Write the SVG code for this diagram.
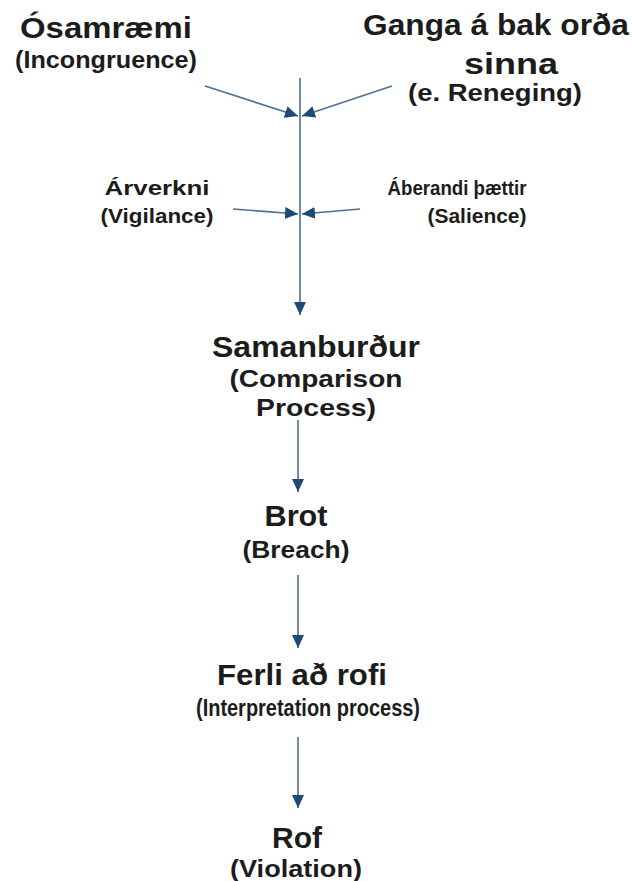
<svg xmlns="http://www.w3.org/2000/svg" width="632" height="881" viewBox="0 0 632 881">
<style>
text{font-family:"Liberation Sans",Arial,sans-serif;font-weight:bold;fill:#1c1c1c;text-anchor:middle}
.t1{font-size:29px}
.t2{font-size:24px}
.t3{font-size:20px}
.c{stroke:#4d6f93;stroke-width:1.6;fill:none}
</style>
<defs>
<marker id="ah" markerUnits="userSpaceOnUse" markerWidth="14" markerHeight="14" viewBox="0 0 14 14" refX="13" refY="7" orient="auto">
<path d="M0,1 L13,7 L0,13 Z" fill="#1f4a78"/>
</marker>
</defs>
<rect width="632" height="881" fill="#ffffff"/>
<g id="connectors">
<line class="c" x1="300" y1="78" x2="300" y2="315" marker-end="url(#ah)"/>
<line class="c" x1="205" y1="86" x2="298" y2="116" marker-end="url(#ah)"/>
<line class="c" x1="392" y1="86" x2="302" y2="116" marker-end="url(#ah)"/>
<line class="c" x1="233" y1="209" x2="298" y2="214" marker-end="url(#ah)"/>
<line class="c" x1="360" y1="209" x2="302" y2="214" marker-end="url(#ah)"/>
<line class="c" x1="298" y1="420" x2="298" y2="492" marker-end="url(#ah)"/>
<line class="c" x1="298" y1="575" x2="298" y2="648" marker-end="url(#ah)"/>
<line class="c" x1="298" y1="737" x2="298" y2="808" marker-end="url(#ah)"/>
</g>
<g id="osamraemi">
<text class="t1" x="106" y="38" textLength="172" lengthAdjust="spacingAndGlyphs">Ósamræmi</text>
<text class="t2" x="106" y="68" textLength="182" lengthAdjust="spacingAndGlyphs">(Incongruence)</text>
</g>
<g id="ganga">
<text class="t1" x="496" y="35" textLength="266" lengthAdjust="spacingAndGlyphs">Ganga á bak orða</text>
<text class="t1" x="511" y="74" textLength="94" lengthAdjust="spacingAndGlyphs">sinna</text>
<text class="t2" x="495" y="101" textLength="174" lengthAdjust="spacingAndGlyphs">(e. Reneging)</text>
</g>
<g id="arverkni">
<text class="t3" x="157" y="195" textLength="105" lengthAdjust="spacingAndGlyphs">Árverkni</text>
<text class="t3" x="157" y="223" textLength="113" lengthAdjust="spacingAndGlyphs">(Vigilance)</text>
</g>
<g id="aberandi">
<text class="t3" x="457" y="195" textLength="139" lengthAdjust="spacingAndGlyphs">Áberandi þættir</text>
<text class="t3" x="477" y="223" textLength="99" lengthAdjust="spacingAndGlyphs">(Salience)</text>
</g>
<g id="samanburdur">
<text class="t1" x="316" y="357" textLength="208" lengthAdjust="spacingAndGlyphs">Samanburður</text>
<text class="t2" x="316" y="387" textLength="173" lengthAdjust="spacingAndGlyphs">(Comparison</text>
<text class="t2" x="316" y="416" textLength="120" lengthAdjust="spacingAndGlyphs">Process)</text>
</g>
<g id="brot">
<text class="t1" x="296" y="526" textLength="63" lengthAdjust="spacingAndGlyphs">Brot</text>
<text class="t2" x="296" y="558" textLength="107" lengthAdjust="spacingAndGlyphs">(Breach)</text>
</g>
<g id="ferli">
<text class="t1" x="302" y="685" textLength="170" lengthAdjust="spacingAndGlyphs">Ferli að rofi</text>
<text class="t2" x="308" y="716" textLength="224" lengthAdjust="spacingAndGlyphs">(Interpretation process)</text>
</g>
<g id="rof">
<text class="t1" x="297" y="848" textLength="50" lengthAdjust="spacingAndGlyphs">Rof</text>
<text class="t2" x="296" y="877" font-size="23" textLength="132" lengthAdjust="spacingAndGlyphs">(Violation)</text>
</g>
</svg>
